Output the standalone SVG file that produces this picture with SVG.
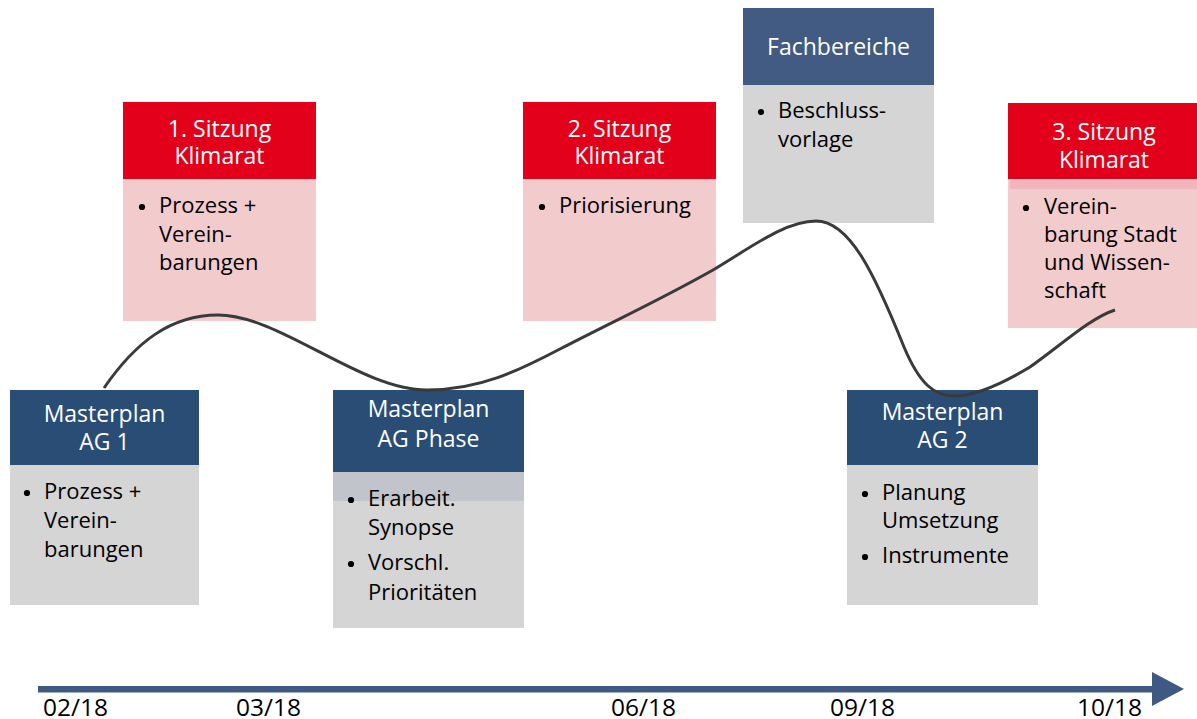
<svg xmlns="http://www.w3.org/2000/svg" width="1197" height="719" viewBox="0 0 1197 719">
<style>
.hd{font-family:"Open Sans","Liberation Sans",sans-serif;font-size:23px;fill:#ffffff;text-anchor:middle}
.bd{font-family:"Open Sans","Liberation Sans",sans-serif;font-size:22px;fill:#000000}
.navy{fill:#294d75}
.navy2{fill:#415b83}
.red{fill:#e2001a}
.pink{fill:#f2cbcd}
.grey{fill:#d5d5d5}
.bul{fill:#000000}
.ax{font-family:"Open Sans","Liberation Sans",sans-serif;font-size:24px;fill:#000000}
</style>
<rect width="1197" height="719" fill="#ffffff"/>
<g id="node-ag1">
<rect x="10" y="390" width="189" height="75" class="navy"/>
<rect x="10" y="465" width="189" height="140" class="grey"/>
<text class="hd" x="104.5" y="422">Masterplan</text>
<text class="hd" x="104.5" y="450">AG 1</text>
<circle class="bul" cx="27" cy="493" r="3.1"/>
<text class="bd" x="44" y="499">Prozess +</text>
<text class="bd" x="44" y="528">Verein-</text>
<text class="bd" x="44" y="557">barungen</text>
</g>
<g id="node-agphase">
<rect x="333" y="390" width="191" height="82" class="navy"/>
<rect x="333" y="472" width="191" height="156" class="grey"/>
<rect x="333" y="472" width="191" height="29" fill="#c1c4ca"/>
<text class="hd" x="428.5" y="417">Masterplan</text>
<text class="hd" x="428.5" y="447">AG Phase</text>
<circle class="bul" cx="351" cy="500" r="3.1"/>
<text class="bd" x="368" y="506">Erarbeit.</text>
<text class="bd" x="368" y="535">Synopse</text>
<circle class="bul" cx="351" cy="564" r="3.1"/>
<text class="bd" x="368" y="570">Vorschl.</text>
<text class="bd" x="368" y="600">Prioritäten</text>
</g>
<g id="node-ag2">
<rect x="847" y="390" width="191" height="75" class="navy"/>
<rect x="847" y="465" width="191" height="140" class="grey"/>
<text class="hd" x="942.5" y="420">Masterplan</text>
<text class="hd" x="942.5" y="448">AG 2</text>
<circle class="bul" cx="865" cy="494" r="3.1"/>
<text class="bd" x="882" y="500">Planung</text>
<text class="bd" x="882" y="528">Umsetzung</text>
<circle class="bul" cx="865" cy="557" r="3.1"/>
<text class="bd" x="882" y="563">Instrumente</text>
</g>
<g id="node-sitzung1">
<rect x="123" y="102" width="193" height="77" class="red"/>
<rect x="123" y="179" width="193" height="142" class="pink"/>
<text class="hd" x="219.5" y="137">1. Sitzung</text>
<text class="hd" x="219.5" y="164">Klimarat</text>
<circle class="bul" cx="142" cy="207" r="3.1"/>
<text class="bd" x="159" y="213">Prozess +</text>
<text class="bd" x="159" y="242">Verein-</text>
<text class="bd" x="159" y="270">barungen</text>
</g>
<g id="node-sitzung2">
<rect x="523" y="102" width="193" height="77" class="red"/>
<rect x="523" y="179" width="193" height="142" class="pink"/>
<text class="hd" x="619.5" y="137">2. Sitzung</text>
<text class="hd" x="619.5" y="164">Klimarat</text>
<circle class="bul" cx="542" cy="207" r="3.1"/>
<text class="bd" x="559" y="213">Priorisierung</text>
</g>
<g id="node-fachbereiche">
<rect x="743" y="8" width="191" height="77" class="navy2"/>
<rect x="743" y="85" width="191" height="138" class="grey"/>
<text class="hd" x="838.5" y="55">Fachbereiche</text>
<circle class="bul" cx="761" cy="112" r="3.1"/>
<text class="bd" x="778" y="118">Beschluss-</text>
<text class="bd" x="778" y="147">vorlage</text>
</g>
<g id="node-sitzung3">
<rect x="1008" y="103" width="189" height="76" class="red"/>
<rect x="1008" y="179" width="189" height="149" class="pink"/>
<rect x="1010" y="180" width="187" height="9" fill="#f1b6bb"/>
<text class="hd" x="1104" y="140">3. Sitzung</text>
<text class="hd" x="1104" y="168">Klimarat</text>
<circle class="bul" cx="1026" cy="208" r="3.1"/>
<text class="bd" x="1044" y="214">Verein-</text>
<text class="bd" x="1044" y="242">barung Stadt</text>
<text class="bd" x="1044" y="270">und Wissen-</text>
<text class="bd" x="1044" y="298">schaft</text>
</g>
<g id="connectors">
<path d="M104,388 C135,343 170,315 218,315 C280,315 360,390 427,390 C480,390 520,370 560,349 C620,318 660,300 713,270 C750,248 785,221 816,221 C850,221 875,275 904,347 C920,385 935,396 954,396 C975,396 1000,385 1030,367 C1060,346 1090,318 1115,310" fill="none" stroke="#3a3a3a" stroke-width="3"/>
<g id="axis">
<rect x="38" y="686" width="1118" height="6.5" fill="#3f5a82"/>
<polygon points="1152,672 1184,689 1152,706" fill="#3f5a82"/>
</g>
</g>
<g id="axis-labels">
<text class="ax" x="43" y="716" textLength="65" lengthAdjust="spacingAndGlyphs">02/18</text>
<text class="ax" x="236" y="716" textLength="65" lengthAdjust="spacingAndGlyphs">03/18</text>
<text class="ax" x="611" y="716" textLength="65" lengthAdjust="spacingAndGlyphs">06/18</text>
<text class="ax" x="830" y="716" textLength="65" lengthAdjust="spacingAndGlyphs">09/18</text>
<text class="ax" x="1077" y="716" textLength="65" lengthAdjust="spacingAndGlyphs">10/18</text>
</g>
</svg>
